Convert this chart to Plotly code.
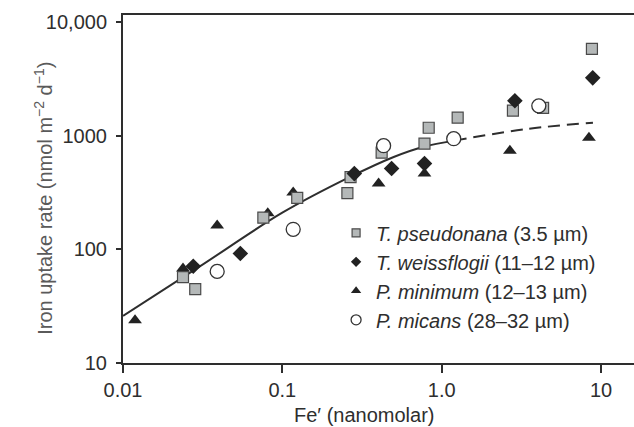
import plotly.graph_objects as go

# ---- data ----
tp_x = [0.0238, 0.0284, 0.076, 0.124, 0.256, 0.268, 0.42, 0.78, 0.829, 1.26, 2.8, 4.33, 8.77]
tp_y = [57, 44.6, 190, 284, 312, 432, 710, 850, 1175, 1440, 1665, 1760, 5800]

tw_x = [0.0276, 0.0545, 0.283, 0.485, 0.78, 2.88, 8.87]
tw_y = [71, 92, 464, 514, 568, 2030, 3230]

pm_x = [0.0119, 0.0238, 0.039, 0.081, 0.117, 0.402, 0.78, 2.68, 8.4]
pm_y = [23.8, 68, 162, 208, 316, 380, 464, 738, 960]

pmi_x = [0.039, 0.117, 0.432, 1.19, 4.07]
pmi_y = [64, 150, 817, 942, 1830]

fit_solid_x = [0.01, 0.03, 0.1, 0.268, 0.5, 0.77, 1.2]
fit_solid_y = [26, 70, 210, 436, 650, 800, 905]
fit_dash_x = [1.2, 3.5, 8.9]
fit_dash_y = [905, 1150, 1300]

names = ["<i>T. pseudonana</i> (3.5 µm)",
         "<i>T. weissflogii</i> (11–12 µm)",
         "<i>P. minimum</i> (12–13 µm)",
         "<i>P. micans</i> (28–32 µm)"]

x_tickvals = [0.01, 0.1, 1, 10]
x_ticktext = ["0.01", "0.1", "1.0", "10"]
y_tickvals = [10, 100, 1000, 10000]
y_ticktext = ["10", "100", "1000", "10,000"]

x_title = "Fe′ (nanomolar)"
y_title = "Iron uptake rate (nmol m<sup>−2</sup> d<sup>−1</sup>)"

INK = "#2e2e2e"
FONT = "Liberation Sans, Arial, sans-serif"
FS = 20

sq = dict(symbol="square", size=11, color="#b4b8b8", line=dict(color="#4a4a4a", width=1.2))
dm = dict(symbol="diamond", size=12, color="#222222", line=dict(color="#222222", width=0))
tr = dict(symbol="triangle-up", size=12, color="#222222", line=dict(color="#222222", width=0))
ci = dict(symbol="circle", size=14, color="white", line=dict(color="#333333", width=1.3))

fig = go.Figure()

fig.add_trace(go.Scatter(x=fit_solid_x, y=fit_solid_y, mode="lines", showlegend=False,
                         line=dict(color=INK, width=2, shape="spline", smoothing=1.0)))
fig.add_trace(go.Scatter(x=fit_dash_x, y=fit_dash_y, mode="lines", showlegend=False,
                         line=dict(color=INK, width=2, shape="spline", dash="12px,7px")))

fig.add_trace(go.Scatter(x=pm_x, y=pm_y, mode="markers", marker=tr, showlegend=False))
fig.add_trace(go.Scatter(x=tp_x, y=tp_y, mode="markers", marker=sq, showlegend=False))
fig.add_trace(go.Scatter(x=tw_x, y=tw_y, mode="markers", marker=dm, showlegend=False))
fig.add_trace(go.Scatter(x=pmi_x, y=pmi_y, mode="markers", marker=ci, showlegend=False))

# legend entries (smaller symbols, as in the reference)
leg_markers = [dict(sq, size=8), dict(dm, size=8), dict(tr, size=9), dict(ci, size=10)]
for i, (nm, mk) in enumerate(zip(names, leg_markers)):
    fig.add_trace(go.Scatter(x=[None], y=[None], mode="markers", name=nm, marker=mk,
                             legendrank=i + 1))

fig.update_layout(
    width=634, height=427,
    margin=dict(l=123, r=0, t=15, b=64),
    paper_bgcolor="white", plot_bgcolor="white",
    font=dict(family=FONT, size=FS, color=INK),
    showlegend=True,
    legend=dict(x=0.417, y=0.43, xanchor="left", yanchor="top",
                bgcolor="rgba(0,0,0,0)", font=dict(size=FS, color=INK),
                itemwidth=30, tracegroupgap=0),
    xaxis=dict(type="log", range=[-2, 1.207], showgrid=False, zeroline=False,
               showline=True, linecolor=INK, linewidth=2, mirror=True,
               ticks="outside", ticklen=8, tickwidth=2, tickcolor=INK,
               tickvals=x_tickvals, ticktext=x_ticktext,
               tickfont=dict(size=FS, color=INK)),
    yaxis=dict(type="log", range=[1, 4.062], showgrid=False, zeroline=False,
               showline=True, linecolor=INK, linewidth=2,
               ticks="outside", ticklen=5, tickwidth=2, tickcolor=INK,
               tickvals=y_tickvals, ticktext=y_ticktext,
               tickfont=dict(size=FS, color=INK), ticklabelstandoff=5),
    annotations=[
        dict(text=x_title, xref="paper", yref="paper", x=0.472, y=-0.149,
             xanchor="center", yanchor="middle", showarrow=False,
             font=dict(size=FS, color=INK)),
        dict(text=y_title, xref="paper", yref="paper", x=-0.157, y=0.474,
             xanchor="center", yanchor="middle", showarrow=False, textangle=-90,
             font=dict(size=FS, color="#5a5a5a")),
    ],
)

fig.write_html("out.html")
